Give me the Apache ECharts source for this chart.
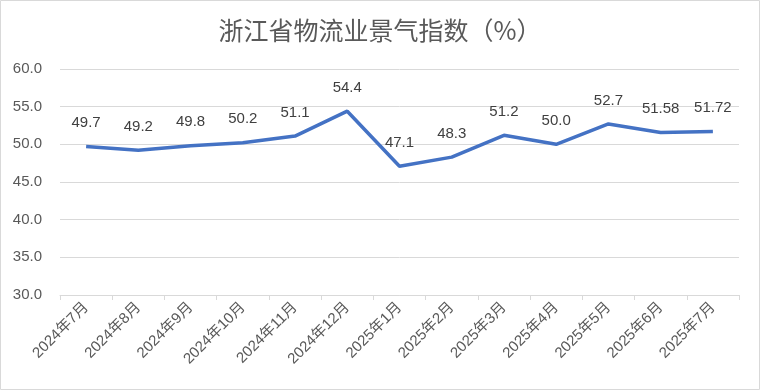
<!DOCTYPE html>
<html>
<head>
<meta charset="utf-8">
<script src="https://cdn.jsdelivr.net/npm/echarts@6/dist/echarts.min.js"></script>
<style>html,body{margin:0;padding:0;background:#fff}#c{width:760px;height:390px}</style>
</head>
<body>
<div id="c"></div>
<script>
var categories = ['2024年7月','2024年8月','2024年9月','2024年10月','2024年11月','2024年12月','2025年1月','2025年2月','2025年3月','2025年4月','2025年5月','2025年6月','2025年7月'];
var values = [49.7,49.2,49.8,50.2,51.1,54.4,47.1,48.3,51.2,50.0,52.7,51.58,51.72];
var labelTexts = ['49.7','49.2','49.8','50.2','51.1','54.4','47.1','48.3','51.2','50.0','52.7','51.58','51.72'];

var chart = echarts.init(document.getElementById('c'));
var font = '"Noto Sans CJK SC","Liberation Sans",sans-serif';
chart.setOption({
  animation: false,
  graphic: [{type:'rect', shape:{x:0.5,y:0.5,width:759,height:389}, style:{fill:'none', stroke:'#d9d9d9', lineWidth:1}}],
  title: {text:'浙江省物流业景气指数（%）', left:'center', top:13,
    textStyle:{color:'#595959', fontSize:25, fontWeight:'normal', fontFamily:font}},
  grid: {left:60, right:21, top:69, bottom:95, containLabel:false},
  xAxis: {type:'category', data:categories, boundaryGap:true,
    axisLine:{lineStyle:{color:'#d9d9d9'}},
    axisTick:{show:true, length:5, lineStyle:{color:'#d9d9d9'}},
    axisLabel:{rotate:45, color:'#595959', fontSize:15, fontFamily:'"Liberation Sans","Noto Sans CJK SC",sans-serif', margin:10, interval:0}},
  yAxis: {type:'value', min:30, max:60, interval:5,
    axisLine:{show:false}, axisTick:{show:false},
    splitLine:{lineStyle:{color:'#d9d9d9'}},
    axisLabel:{color:'#595959', fontSize:15, fontFamily:'"Liberation Sans",sans-serif', margin:18,
      formatter:function(v){return v.toFixed(1);}}},
  series: [{type:'line', data:values, showSymbol:true, symbol:'circle', symbolSize:2,
    lineStyle:{color:'#4472C4', width:3.5}, itemStyle:{color:'rgba(68,114,196,0)'},
    label:{show:true, position:'top', distance:15, color:'#404040', fontSize:15,
      fontFamily:'"Liberation Sans",sans-serif',
      formatter:function(p){return labelTexts[p.dataIndex];}}}]
});
</script>
</body>
</html>
